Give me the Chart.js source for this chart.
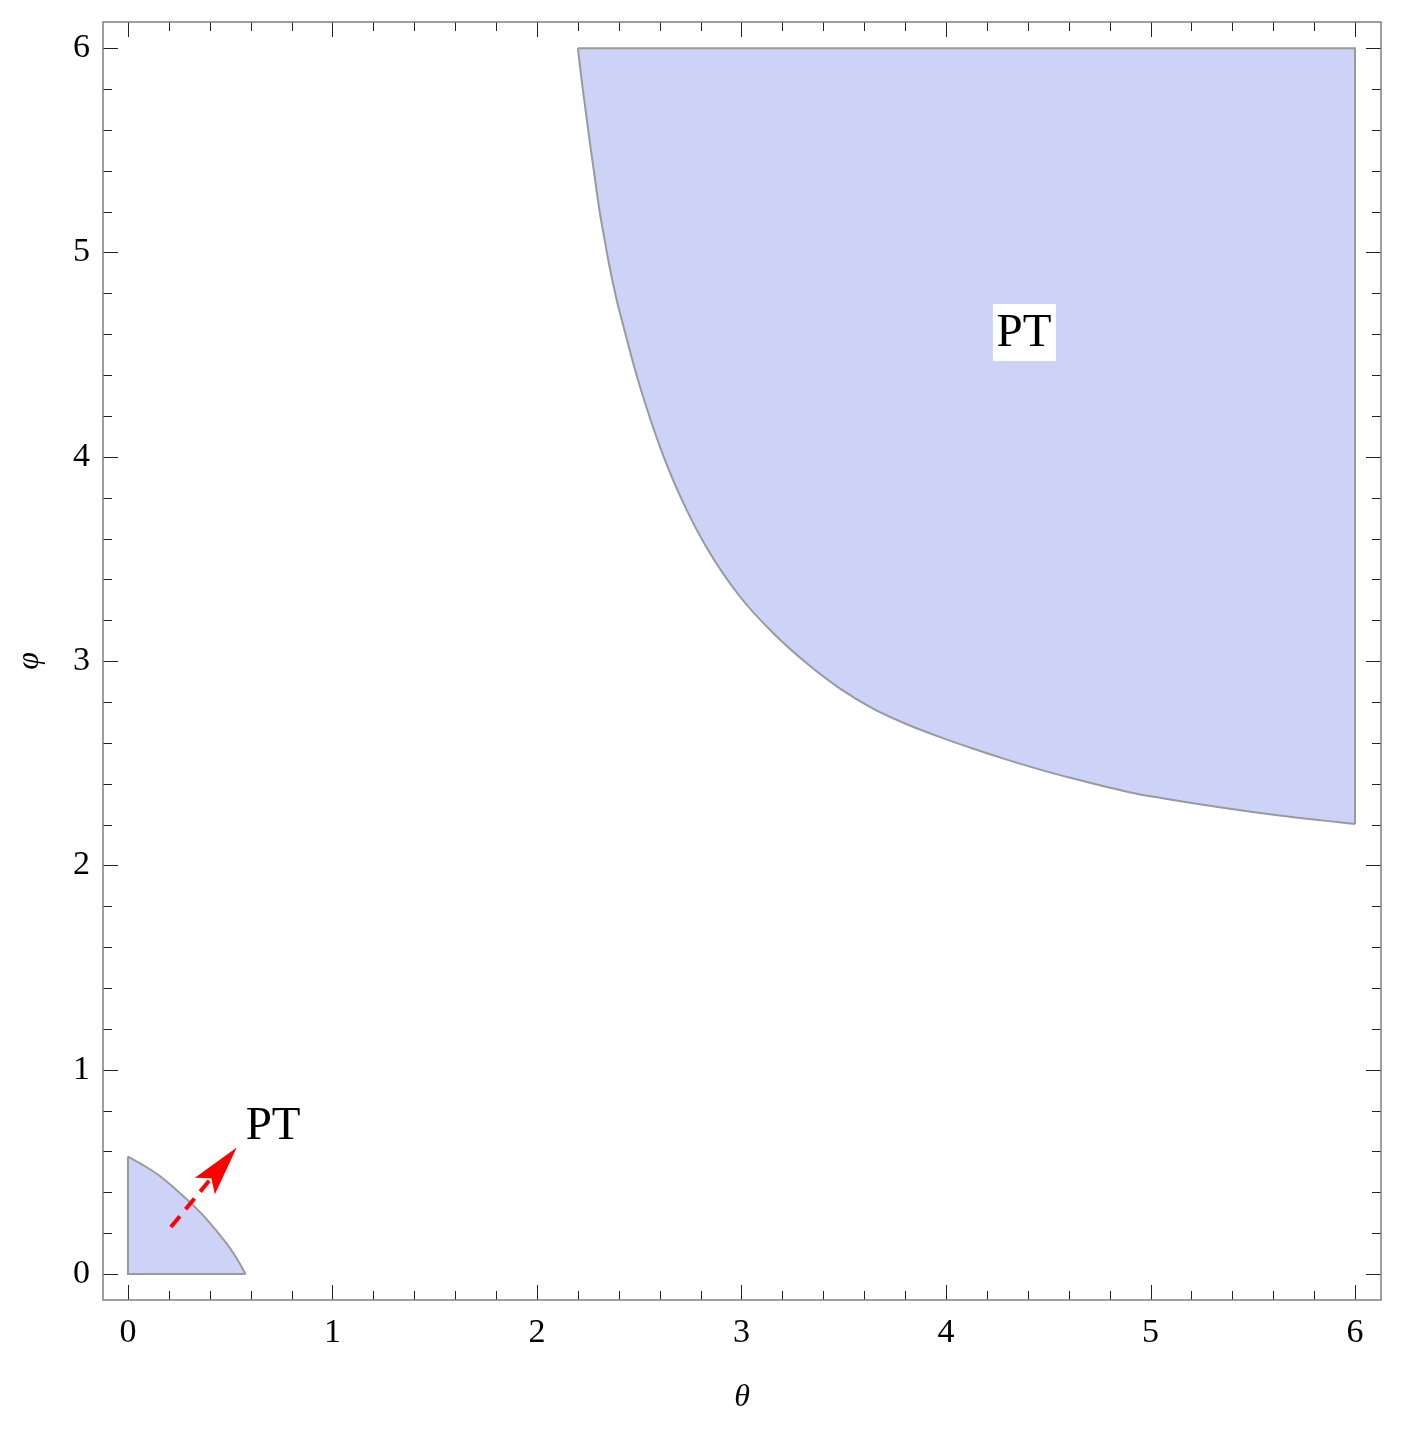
<!DOCTYPE html>
<html lang="en">
<head>
  <meta charset="UTF-8" />
  <title>PT region in the θ–φ plane</title>
  <script src="https://cdn.jsdelivr.net/npm/chart.js"></script>
  <style>
    body {
      margin: 0;
      background-color: #ffffff;
    }
    .wrap {
      width: 1401px;
      height: 1437px;
    }
  </style>
</head>
<body>

<div class="wrap">
  <canvas id="regionChart" width="1401" height="1437"></canvas>
</div>

<script>
  // axis ticks
  const tickValues = [0, 1, 2, 3, 4, 5, 6];
  const tickLabels = ['0', '1', '2', '3', '4', '5', '6'];

  // boundary curve of the large PT region (region lies between it and phi = 6)
  const bigTheta = [2.200, 2.220, 2.240, 2.259, 2.282, 2.305, 2.333, 2.352, 2.388, 2.429,
                    2.470, 2.520, 2.601, 2.699, 2.830, 2.993, 3.156, 3.319, 3.482, 3.645,
                    3.808, 3.971, 4.134, 4.297, 4.460, 4.622, 4.786, 4.949, 5.046, 5.209,
                    5.372, 5.535, 5.699, 5.861, 6.000];
  const bigPhi   = [6.000, 5.830, 5.680, 5.535, 5.372, 5.209, 5.050, 4.945, 4.775, 4.615,
                    4.460, 4.290, 4.050, 3.810, 3.555, 3.315, 3.136, 2.989, 2.865, 2.766,
                    2.691, 2.628, 2.571, 2.518, 2.469, 2.425, 2.384, 2.347, 2.331, 2.304,
                    2.280, 2.257, 2.236, 2.218, 2.203];
  // straight edges of the large region
  const bigEdgeTheta = [2.200, 6.000, 6.000];
  const bigEdgePhi   = [6.000, 6.000, 2.203];

  // boundary curve of the small PT region near the origin (region lies under it)
  const smallTheta = [0, 0.080, 0.156, 0.230, 0.303, 0.370, 0.430, 0.482, 0.530, 0.575];
  const smallPhi   = [0.575, 0.530, 0.480, 0.418, 0.352, 0.285, 0.215, 0.150, 0.080, 0];
  const smallEdgeTheta = [0, 0, 0.575];
  const smallEdgePhi   = [0.575, 0, 0];

  // dashed arrow (tail -> shaft end) and arrow tip
  const arrowTheta = [0.210, 0.400];
  const arrowPhi   = [0.230, 0.460];
  const arrowTip   = [0.532, 0.620];

  // text labels
  const labelText  = ['PT', 'PT'];
  const labelTheta = [4.381, 0.710];
  const labelPhi   = [4.611, 0.730];
  const labelBoxed = [true, false];

  const serif = '"Liberation Serif", "DejaVu Serif", serif';
  const fillColor = 'rgb(205, 211, 246)';
  const edgeColor = '#9a9a9a';

  function toPoints(xs, ys) {
    return xs.map((x, i) => ({ x: x, y: ys[i] }));
  }

  const frameTicks = {
    id: 'frameTicks',
    afterDraw(chart) {
      const ctx = chart.ctx;
      const a = chart.chartArea;
      const xs = chart.scales.x, ys = chart.scales.y;
      ctx.save();
      ctx.strokeStyle = '#222';
      ctx.lineWidth = 1;
      for (let k = 0; k <= 30; k++) {
        const v = k / 5;
        const len = (k % 5 === 0) ? 15 : 9;
        const px = Math.round(xs.getPixelForValue(v)) + 0.5;
        const py = Math.round(ys.getPixelForValue(v)) + 0.5;
        ctx.beginPath();
        ctx.moveTo(px, a.bottom); ctx.lineTo(px, a.bottom - len);
        ctx.moveTo(px, a.top); ctx.lineTo(px, a.top + len);
        ctx.moveTo(a.left, py); ctx.lineTo(a.left + len, py);
        ctx.moveTo(a.right, py); ctx.lineTo(a.right - len, py);
        ctx.stroke();
      }
      ctx.strokeStyle = '#7f7f7f';
      ctx.lineWidth = 1.5;
      ctx.strokeRect(a.left, a.top, a.right - a.left, a.bottom - a.top);
      ctx.restore();
    }
  };

  const notes = {
    id: 'notes',
    afterDatasetsDraw(chart) {
      const ctx = chart.ctx;
      const xs = chart.scales.x, ys = chart.scales.y;
      ctx.save();

      // arrow head
      const tx = xs.getPixelForValue(arrowTip[0]);
      const ty = ys.getPixelForValue(arrowTip[1]);
      const sx = xs.getPixelForValue(arrowTheta[0]);
      const sy = ys.getPixelForValue(arrowPhi[0]);
      const ang = Math.atan2(ty - sy, tx - sx);
      const L = 50, W = 13;
      const bx = tx - L * Math.cos(ang), by = ty - L * Math.sin(ang);
      const nx = -Math.sin(ang), ny = Math.cos(ang);
      ctx.fillStyle = '#ff0000';
      ctx.beginPath();
      ctx.moveTo(tx, ty);
      ctx.lineTo(bx + nx * W, by + ny * W);
      ctx.lineTo(tx - 0.8 * L * Math.cos(ang), ty - 0.8 * L * Math.sin(ang));
      ctx.lineTo(bx - nx * W, by - ny * W);
      ctx.closePath();
      ctx.fill();

      // labels
      ctx.font = '47px ' + serif;
      ctx.textAlign = 'center';
      ctx.textBaseline = 'middle';
      labelText.forEach((t, i) => {
        const px = xs.getPixelForValue(labelTheta[i]);
        const py = ys.getPixelForValue(labelPhi[i]);
        if (labelBoxed[i]) {
          ctx.fillStyle = '#ffffff';
          ctx.fillRect(px - 31, py - 28, 63, 57);
        }
        ctx.fillStyle = '#000000';
        ctx.fillText(t, px, py + 2);
      });
      ctx.restore();
    }
  };

  const edgeStyle = {
    showLine: true,
    fill: false,
    borderColor: edgeColor,
    borderWidth: 2,
    pointRadius: 0,
    tension: 0
  };

  const regionChart = new Chart(document.getElementById('regionChart'), {
    type: 'scatter',
    data: {
      datasets: [
        {
          label: 'arrow',
          data: toPoints(arrowTheta, arrowPhi),
          showLine: true,
          fill: false,
          borderColor: '#ff0000',
          borderWidth: 4,
          borderDash: [14, 9],
          pointRadius: 0
        },
        { label: 'PT edge (large)', data: toPoints(bigEdgeTheta, bigEdgePhi), ...edgeStyle },
        {
          label: 'PT (large)',
          data: toPoints(bigTheta, bigPhi),
          showLine: true,
          fill: { value: 6 },
          backgroundColor: fillColor,
          borderColor: edgeColor,
          borderWidth: 2,
          pointRadius: 0,
          cubicInterpolationMode: 'monotone'
        },
        { label: 'PT edge (small)', data: toPoints(smallEdgeTheta, smallEdgePhi), ...edgeStyle },
        {
          label: 'PT (small)',
          data: toPoints(smallTheta, smallPhi),
          showLine: true,
          fill: { value: 0 },
          backgroundColor: fillColor,
          borderColor: edgeColor,
          borderWidth: 2,
          pointRadius: 0,
          cubicInterpolationMode: 'monotone'
        }
      ]
    },
    options: {
      responsive: false,
      animation: false,
      layout: { padding: { left: 0, right: 20, top: 22, bottom: 0 } },
      plugins: {
        legend: { display: false },
        tooltip: { enabled: false }
      },
      scales: {
        x: {
          type: 'linear',
          min: -0.122,
          max: 6.127,
          grid: { display: false, drawTicks: false },
          border: { display: false },
          afterBuildTicks: (s) => { s.ticks = tickValues.map(v => ({ value: v })); },
          afterFit: (s) => { s.height = 137; s.paddingLeft = 0; s.paddingRight = 0; },
          ticks: {
            color: '#000',
            padding: 13,
            maxRotation: 0,
            font: { family: serif, size: 34 },
            callback: (v) => tickLabels[tickValues.indexOf(v)]
          },
          title: {
            display: true,
            text: 'θ',
            color: '#000',
            padding: { top: 0, bottom: 20 },
            font: { family: serif, size: 32, style: 'italic' }
          }
        },
        y: {
          type: 'linear',
          min: -0.127,
          max: 6.128,
          grid: { display: false, drawTicks: false },
          border: { display: false },
          afterBuildTicks: (s) => { s.ticks = tickValues.map(v => ({ value: v })); },
          afterFit: (s) => { s.width = 103; s.paddingTop = 0; s.paddingBottom = 0; },
          ticks: {
            color: '#000',
            padding: 13,
            font: { family: serif, size: 34 },
            callback: (v) => tickLabels[tickValues.indexOf(v)]
          },
          title: {
            display: true,
            text: 'φ',
            color: '#000',
            padding: { top: 10, bottom: 0 },
            font: { family: serif, size: 32, style: 'italic' }
          }
        }
      }
    },
    plugins: [frameTicks, notes]
  });
</script>

</body>
</html>
